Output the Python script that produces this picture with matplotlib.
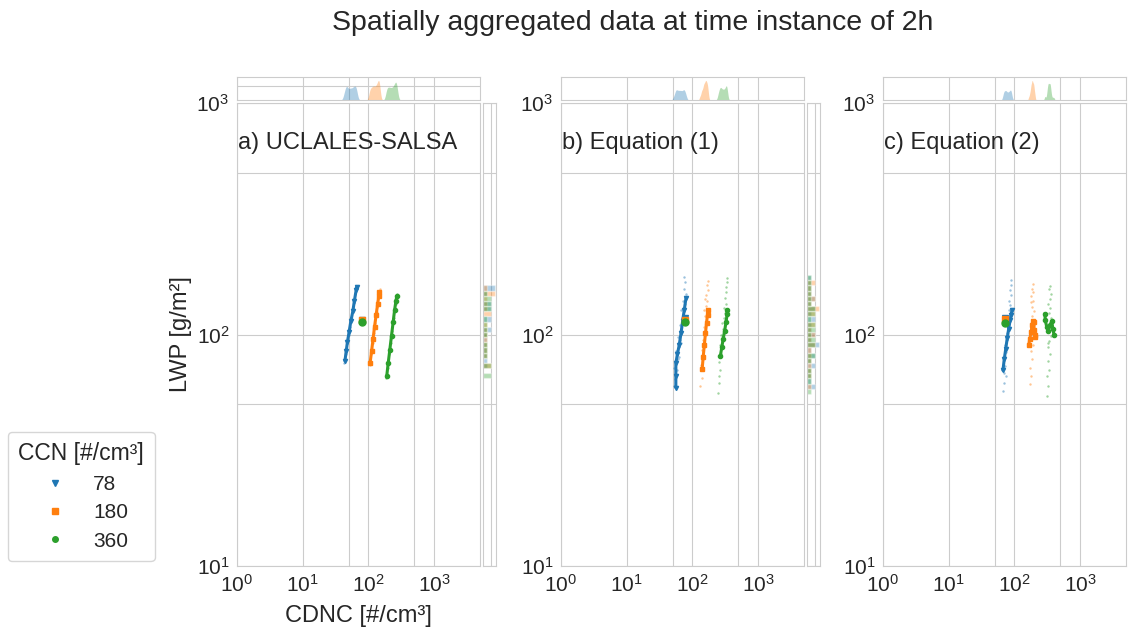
import matplotlib
matplotlib.use('Agg')
import matplotlib.pyplot as plt
import seaborn as sns
import numpy as np
from matplotlib.lines import Line2D

sns.set_style('whitegrid')
plt.rcParams['font.family'] = ['Liberation Sans', 'DejaVu Sans']
plt.rcParams['mathtext.fontset'] = 'custom'
plt.rcParams['mathtext.rm'] = 'Liberation Sans'
plt.rcParams['mathtext.it'] = 'Liberation Sans:italic'
plt.rcParams['mathtext.bf'] = 'Liberation Sans:bold'

ccn_labels = ['78', '180', '360']
colors = ['#1f77b4', '#ff7f0e', '#2ca02c']
markers = ['v', 's', 'o']
panel_titles = ['a) UCLALES-SALSA', 'b) Equation (1)', 'c) Equation (2)']

x_ticks = [1, 10, 50, 100, 500, 1000]
x_ticklabels = ['$\\mathdefault{10^{0}}$', '$\\mathdefault{10^{1}}$', '', '$\\mathdefault{10^{2}}$', '', '$\\mathdefault{10^{3}}$']
y_ticks = [10, 50, 100, 500, 1000]
y_ticklabels = ['$\\mathdefault{10^{1}}$', '', '$\\mathdefault{10^{2}}$', '', '$\\mathdefault{10^{3}}$']

# a) UCLALES-SALSA  (CDNC [#/cm3], LWP [g/m2]) per CCN
a_line_cdnc = [[44, 46, 48, 51, 54, 58, 61, 65, 66],
               [106, 112, 118, 124, 131, 138, 144, 147],
               [190, 200, 212, 225, 238, 250, 262, 270]]
a_line_lwp = [[77, 85, 93, 103, 114, 126, 139, 155, 160],
              [75, 85, 96, 108, 121, 135, 147, 153],
              [66, 75, 86, 99, 113, 127, 139, 146]]
a_cloud_cdnc = [[43, 46, 47, 50, 53, 55, 58, 60, 63, 65],
                [104, 110, 116, 121, 127, 133, 137, 142, 146, 149],
                [188, 198, 208, 218, 230, 242, 252, 260, 268, 276]]
a_cloud_lwp = [[75, 82, 92, 100, 108, 118, 130, 137, 150, 158],
               [74, 82, 92, 102, 112, 125, 132, 142, 150, 158],
               [65, 72, 82, 92, 104, 118, 128, 136, 144, 150]]
a_agg_cdnc = [79, 79, 79]
a_agg_lwp = [115, 116, 113]

# b) Equation (1)
b_line_cdnc = [[56, 56, 56, 59, 63, 67, 71, 75, 80],
               [141, 146, 152, 158, 164, 170, 175],
               [267, 280, 295, 310, 325, 339, 335]]
b_line_lwp = [[59, 66, 75, 82, 90, 101, 114, 127, 144],
              [71, 80, 90, 101, 112, 122, 127],
              [81, 88, 96, 104, 113, 123, 128]]
b_cloud_cdnc = [[52, 55, 58, 53, 60, 57, 62, 65, 60, 68, 64, 70, 73, 68, 76, 72, 79, 75, 78, 74, 62, 66],
                [130, 138, 135, 145, 140, 150, 147, 155, 150, 160, 156, 165, 160, 168, 162, 170, 165, 172, 158, 152],
                [245, 250, 255, 262, 258, 270, 265, 278, 275, 290, 285, 300, 310, 298, 320, 315, 330, 325, 335, 340]]
b_cloud_lwp = [[60, 64, 70, 72, 78, 85, 88, 95, 98, 104, 110, 118, 122, 128, 135, 140, 150, 158, 168, 178, 80, 92],
               [60, 65, 74, 78, 86, 88, 95, 100, 108, 112, 120, 126, 133, 140, 148, 155, 163, 170, 142, 128],
               [56, 62, 66, 70, 76, 82, 90, 94, 100, 106, 112, 118, 124, 130, 136, 144, 152, 160, 168, 175]]
b_agg_cdnc = [77, 77, 77]
b_agg_lwp = [118, 116, 113]

# c) Equation (2)
c_line_cdnc = [[67, 70, 74, 78, 82, 86, 89, 92],
               [165, 172, 180, 186, 190, 196, 200, 204, 206],
               [290, 296, 310, 330, 350, 370, 385, 400]]
c_line_lwp = [[70, 78, 87, 97, 106, 115, 121, 128],
              [90, 96, 103, 110, 114, 113, 105, 98, 100],
              [123, 115, 108, 104, 110, 114, 106, 100]]
c_cloud_cdnc = [[68, 70, 69, 72, 71, 75, 73, 77, 76, 80, 79, 83, 82, 86, 84, 88, 87, 90, 89, 74],
                [170, 180, 175, 186, 178, 190, 184, 194, 182, 196, 188, 198, 185, 192, 180, 195, 186, 190, 176, 200],
                [315, 325, 318, 335, 330, 345, 320, 340, 355, 330, 350, 360, 335, 348, 325, 345, 360, 338, 352, 322]]
c_cloud_lwp = [[57, 62, 68, 73, 80, 84, 90, 95, 102, 108, 115, 120, 128, 134, 140, 148, 156, 163, 172, 66],
               [61, 66, 72, 78, 85, 90, 96, 102, 108, 114, 120, 126, 132, 140, 146, 152, 158, 165, 138, 110],
               [54, 60, 66, 70, 77, 82, 88, 94, 99, 105, 112, 118, 124, 130, 136, 143, 150, 157, 162, 92]]
c_agg_cdnc = [73, 73, 73]
c_agg_lwp = [118, 117, 112]

panels = [
    (a_line_cdnc, a_line_lwp, a_cloud_cdnc, a_cloud_lwp, a_agg_cdnc, a_agg_lwp),
    (b_line_cdnc, b_line_lwp, b_cloud_cdnc, b_cloud_lwp, b_agg_cdnc, b_agg_lwp),
    (c_line_cdnc, c_line_lwp, c_cloud_cdnc, c_cloud_lwp, c_agg_cdnc, c_agg_lwp),
]

W, H = 1128, 631
fig = plt.figure(figsize=(W / 100, H / 100), dpi=100)


def frac(x0, y0, x1, y1):
    # pixel box (top-left origin) -> figure fraction rect
    return [x0 / W, 1 - y1 / H, (x1 - x0) / W, (y1 - y0) / H]


main_lefts = [237, 561, 883]
main_w = 243

for i, (lc, ll, cc, cl, ac, al) in enumerate(panels):
    x0 = main_lefts[i]
    ax = fig.add_axes(frac(x0, 103, x0 + main_w, 566))
    ax_top = fig.add_axes(frac(x0, 77, x0 + main_w, 100))
    ax_r = fig.add_axes(frac(x0 + main_w + 3, 103, x0 + main_w + 16, 566))

    for k in range(3):
        ax.scatter(cc[k], cl[k], s=3, color=colors[k], alpha=0.45, linewidths=0, zorder=2)
    for k in range(3):
        ax.plot(lc[k], ll[k], color=colors[k], lw=2.2, marker=markers[k], markersize=3, zorder=3)
    for k in range(3):
        ax.plot(ac[k], al[k], linestyle='', marker=markers[k], color=colors[k], markersize=5, zorder=4)

    ax.set_xscale('log')
    ax.set_yscale('log')
    ax.set_xlim(1, 5000)
    ax.set_ylim(10, 1000)
    ax.set_xticks(x_ticks)
    ax.set_xticklabels(x_ticklabels)
    ax.set_yticks(y_ticks)
    ax.set_yticklabels(y_ticklabels)
    ax.minorticks_off()
    ax.tick_params(labelsize=15, colors='.15', pad=2)
    ax.text(0.004, 0.913, panel_titles[i], transform=ax.transAxes, fontsize=17,
            color='.15', va='center', ha='left')

    # top marginal: CDNC densities
    for k in range(3):
        sns.kdeplot(x=lc[k] + cc[k], ax=ax_top, log_scale=True, fill=True, bw_adjust=0.6,
                    color=colors[k], alpha=0.35, linewidth=0)
    ax_top.set_xlim(1, 5000)
    top = ax_top.get_ylim()[1] * 1.12
    ax_top.set_ylim(0, top)
    ax_top.set_xticks(x_ticks)
    ax_top.set_yticks([top * 0.6] if i == 0 else [])
    ax_top.minorticks_off()
    ax_top.tick_params(labelbottom=False, labelleft=False, length=0)
    ax_top.set_xlabel('')
    ax_top.set_ylabel('')

    # right marginal: LWP histograms
    bins = np.logspace(np.log10(50), np.log10(200), 28)
    for k in range(3):
        ax_r.hist(ll[k] + cl[k], bins=bins, orientation='horizontal',
                  color=colors[k], alpha=0.35)
    ax_r.set_yscale('log')
    ax_r.set_ylim(10, 1000)
    ax_r.set_yticks(y_ticks)
    xr = ax_r.get_xlim()[1]
    ax_r.set_xlim(0, xr)
    ax_r.set_xticks([xr * 0.65])
    ax_r.minorticks_off()
    ax_r.tick_params(labelbottom=False, labelleft=False, length=0)

    if i == 0:
        ax.set_xlabel('CDNC [#/cm³]', fontsize=17, color='.15', labelpad=7)
        ax.set_ylabel('LWP [g/m²]', fontsize=17, color='.15', labelpad=3)

handles = [Line2D([], [], linestyle='', marker=markers[k], color=colors[k], markersize=4)
           for k in range(3)]
fig.legend(handles, ccn_labels, title='CCN [#/cm³]', loc='lower left',
           bbox_to_anchor=(8 / W, 70 / H), borderaxespad=0, fontsize=15, title_fontsize=16.5,
           frameon=True, borderpad=0.5, labelspacing=0.45)

fig.suptitle('Spatially aggregated data at time instance of 2h', fontsize=20.5,
             x=0.561, y=0.963, va='center', color='.15')

plt.savefig('out.png', dpi=100)
